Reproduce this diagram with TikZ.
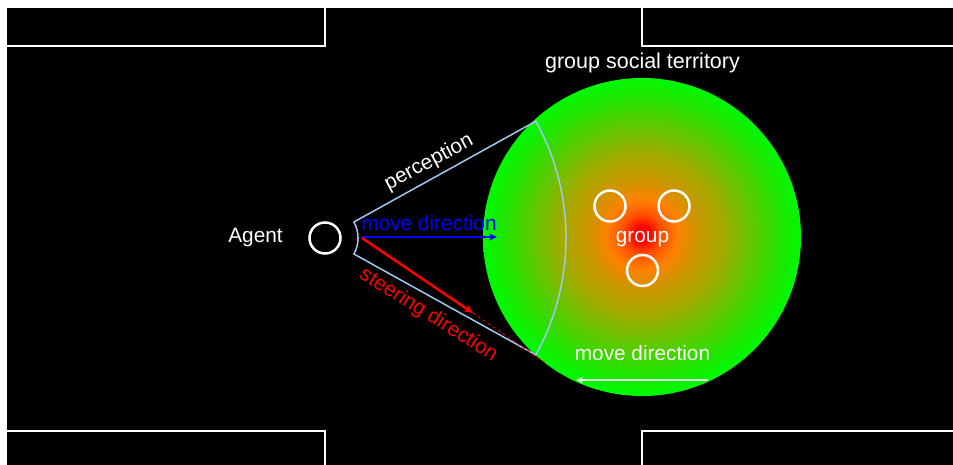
\documentclass[tikz,border=0pt]{standalone}
\usepackage{fontspec}
\setmainfont{Liberation Sans}
\usetikzlibrary{arrows.meta}
\definecolor{redorA}{RGB}{255,80,0}
\definecolor{orangeA}{RGB}{255,128,0}
\definecolor{oliveA}{RGB}{205,150,0}
\definecolor{oliveB}{RGB}{165,170,0}
\definecolor{limeA}{RGB}{95,200,0}
\definecolor{greenA}{RGB}{30,230,0}
\definecolor{greenB}{RGB}{0,250,0}
\definecolor{conecol}{RGB}{160,200,240}
\definecolor{arrwhite}{RGB}{225,250,225}
\pgfdeclareradialshading{terr}{\pgfpoint{0bp}{0.5bp}}{color(0bp)=(red); color(1.2bp)=(red); color(3.1bp)=(redorA); color(5.5bp)=(orangeA); color(8.6bp)=(oliveA); color(12.6bp)=(oliveB); color(17.3bp)=(limeA); color(22bp)=(greenA); color(25bp)=(greenB); color(50bp)=(greenB)}
\tikzset{
  lbl/.style={text=white, font=\fontsize{20.8pt}{24pt}\selectfont, inner sep=0pt},
  wall/.style={draw=white, line width=2.5pt},
  person/.style={circle, draw=white, line width=2.5pt, minimum size=31pt, inner sep=0pt},
  cone/.style={draw=conecol, line width=1.5pt},
}
\begin{document}
\begin{tikzpicture}[x=1pt, y=-1pt]
\fill[white] (0,0) rectangle (953,465);
\useasboundingbox (0,0) rectangle (953,465);
\fill[black] (7,8) rectangle (953,465);
% walls
\draw[wall] (7,46) -- (325,46) -- (325,8);
\draw[wall] (642,8) -- (642,46) -- (953,46);
\draw[wall] (7,431) -- (325,431) -- (325,465);
\draw[wall] (642,465) -- (642,431) -- (953,431);
% territory
\node[circle, minimum size=318pt, inner sep=0pt, shade, shading=terr] (terr) at (642,237) {};
% perception cone
\coordinate (agc) at (325,238);
\draw[cone] (353.9,222) -- (535.8,121.2) arc[start angle=-29, end angle=29, radius=241] -- (353.9,254) arc[start angle=29, end angle=-29, radius=33] -- cycle;
% agent
\node[person] (agent) at (agc) {};
\node[lbl, anchor=base] (agentlbl) at (255.5,243) {Agent};
% group members
\node[person] (g1) at (610,206) {};
\node[person] (g2) at (674,206) {};
\node[person] (g3) at (642.5,270.5) {};
\node[lbl, anchor=base] (grouplbl) at (642.5,243) {group};
\node[lbl, anchor=base, font=\fontsize{21.5pt}{24pt}\selectfont] (terrlbl) at (642.5,69) {group social territory};
% arrows
\coordinate (ms) at (361,237);
\coordinate (me) at (497,237);
\draw[blue, line width=2pt, -{Stealth[length=8pt,width=7pt]}] (ms) -- (me);
\node[lbl, text=blue, anchor=base] (movelbl) at (429,230) {move direction};
\coordinate (ss) at (362,238);
\coordinate (se) at (473,313);
\coordinate (sd) at (547,364);
\draw[red, line width=2.5pt, -{Stealth[length=9pt,width=8pt]}] (ss) -- (se);
\draw[red, line width=0.8pt, dash pattern=on 3pt off 3pt] (se) -- (sd);
\node[lbl, text=red, rotate=-32] (steerlbl) at (428.5,315) {steering direction};
\node[lbl, rotate=28] (perclbl) at (429,162.5) {perception};
% group move direction
\node[lbl, anchor=base] (gmovelbl) at (642.5,360) {move direction};
\coordinate (ga) at (708,380);
\coordinate (gb) at (576,380);
\draw[arrwhite, line width=1.5pt, -{Stealth[length=7pt,width=7pt]}] (ga) -- (gb);
\end{tikzpicture}
\end{document}
